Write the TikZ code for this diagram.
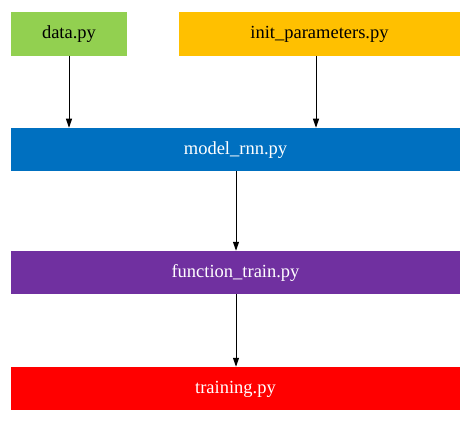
\documentclass[tikz,border=0pt]{standalone}
\usepackage{fontspec}
\setmainfont{Liberation Serif}
\usetikzlibrary{arrows.meta}
\definecolor{cgreen}{HTML}{92D050}
\definecolor{cyellow}{HTML}{FFC000}
\definecolor{cblue}{HTML}{0070C0}
\definecolor{cpurple}{HTML}{7030A0}
\definecolor{cred}{HTML}{FF0000}
\tikzset{
  box/.style={draw=none, inner sep=0pt, outer sep=0pt, minimum height=43.5pt,
    text height=12pt, text depth=2pt, font=\fontsize{18.5}{20}\selectfont},
  conn/.style={line width=1pt, -{Triangle[length=9pt,width=6pt]}}
}
\begin{document}
\begin{tikzpicture}[x=1pt,y=-1pt]
\useasboundingbox[fill=white] (0,0) rectangle (471,422);
\node[box, fill=cgreen, minimum width=116pt, text=black] (data) at (69,33.8) {data.py};
\node[box, fill=cyellow, minimum width=281pt, text=black] (init) at (319.5,33.8) {init\_parameters.py};
\node[box, fill=cblue, minimum width=449pt, text=white] (model) at (235.5,149.5) {model\_rnn.py};
\node[box, fill=cpurple, minimum width=449pt, text=white] (func) at (235.5,272.5) {function\_train.py};
\node[box, fill=cred, minimum width=449pt, text=white] (train) at (235.5,388.5) {training.py};
\coordinate (i1) at (316,0);
\coordinate (m1) at (236,0);
\draw[conn] (data.south) -- (data.south |- model.north);
\draw[conn] (init.south -| i1) -- (model.north -| i1);
\draw[conn] (model.south -| m1) -- (func.north -| m1);
\draw[conn] (func.south -| m1) -- (train.north -| m1);
\end{tikzpicture}
\end{document}
